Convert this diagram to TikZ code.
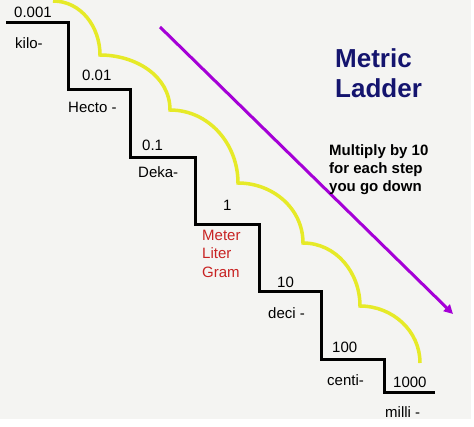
\documentclass[tikz,border=0pt]{standalone}
\usepackage{fontspec}
\setmainfont{Liberation Sans}
\usetikzlibrary{arrows.meta}
\definecolor{bgcol}{RGB}{244,244,242}
\definecolor{stepyellow}{RGB}{230,234,40}
\definecolor{arrowpurple}{RGB}{165,0,215}
\definecolor{unitred}{RGB}{200,35,35}
\definecolor{titlenavy}{RGB}{20,20,110}
\tikzset{
  lbl/.style={anchor=base west, inner sep=0pt, font=\fontsize{15}{18}\selectfont},
  redlbl/.style={lbl, text=unitred, align=left, font=\fontsize{15}{18.5}\selectfont},
  ttl/.style={anchor=base west, inner sep=0pt, text=titlenavy, align=left, font=\fontsize{26}{30}\selectfont\bfseries},
  note/.style={anchor=base west, inner sep=0pt, align=left, font=\fontsize{15}{18}\selectfont\bfseries},
  stair/.style={line width=3pt, black},
  hop/.style={line width=3.5pt, stepyellow},
  bigarrow/.style={line width=3pt, arrowpurple, -{Triangle[length=9pt,width=9pt]}}
}
\begin{document}
\begin{tikzpicture}[x=1pt,y=-1pt]
\fill[white] (0,0) rectangle (474,426);
\fill[bgcol] (0,0) rectangle (471,419);
\useasboundingbox (0,0) rectangle (474,426);
% staircase
\draw[stair] (6,22) -- (68,22) -- (68,89) -- (130,89) -- (130,157) -- (195,157)
  -- (195,224) -- (259,224) -- (259,291) -- (321,291) -- (321,359) -- (384,359)
  -- (384,392) -- (435,392);
% yellow hops
\draw[hop] (53,1) to[out=0,in=90] (100,55) to[out=0,in=90] (170,110)
  to[out=0,in=90] (238,183) to[out=0,in=90] (303,243)
  to[out=0,in=90] (360,306) to[out=0,in=90] (420,363);
% purple arrow
\coordinate (astart) at (160,27);
\coordinate (aend) at (453,314);
\draw[bigarrow] (astart) -- (aend);
% labels
\node[lbl] (v0001) at (14,17) {0.001};
\node[lbl] (kilo) at (15,48) {kilo-};
\node[lbl] (v001) at (82,80) {0.01};
\node[lbl] (hecto) at (68,112) {Hecto -};
\node[lbl] (v01) at (142,150) {0.1};
\node[lbl] (deka) at (138,177) {Deka-};
\node[lbl] (v1) at (223,210) {1};
\node[redlbl] (base) at (202,277) {Meter\\Liter\\Gram};
\node[lbl] (v10) at (277,287) {10};
\node[lbl] (deci) at (268,318) {deci -};
\node[lbl] (v100) at (332,352) {100};
\node[lbl] (centi) at (327,385) {centi-};
\node[lbl] (v1000) at (393,387) {1000};
\node[lbl] (milli) at (385,417) {milli -};
\node[ttl] (title) at (335,97) {Metric\\Ladder};
\node[note] (rule) at (329,191) {Multiply by 10\\for each step\\you go down};
\end{tikzpicture}
\end{document}
